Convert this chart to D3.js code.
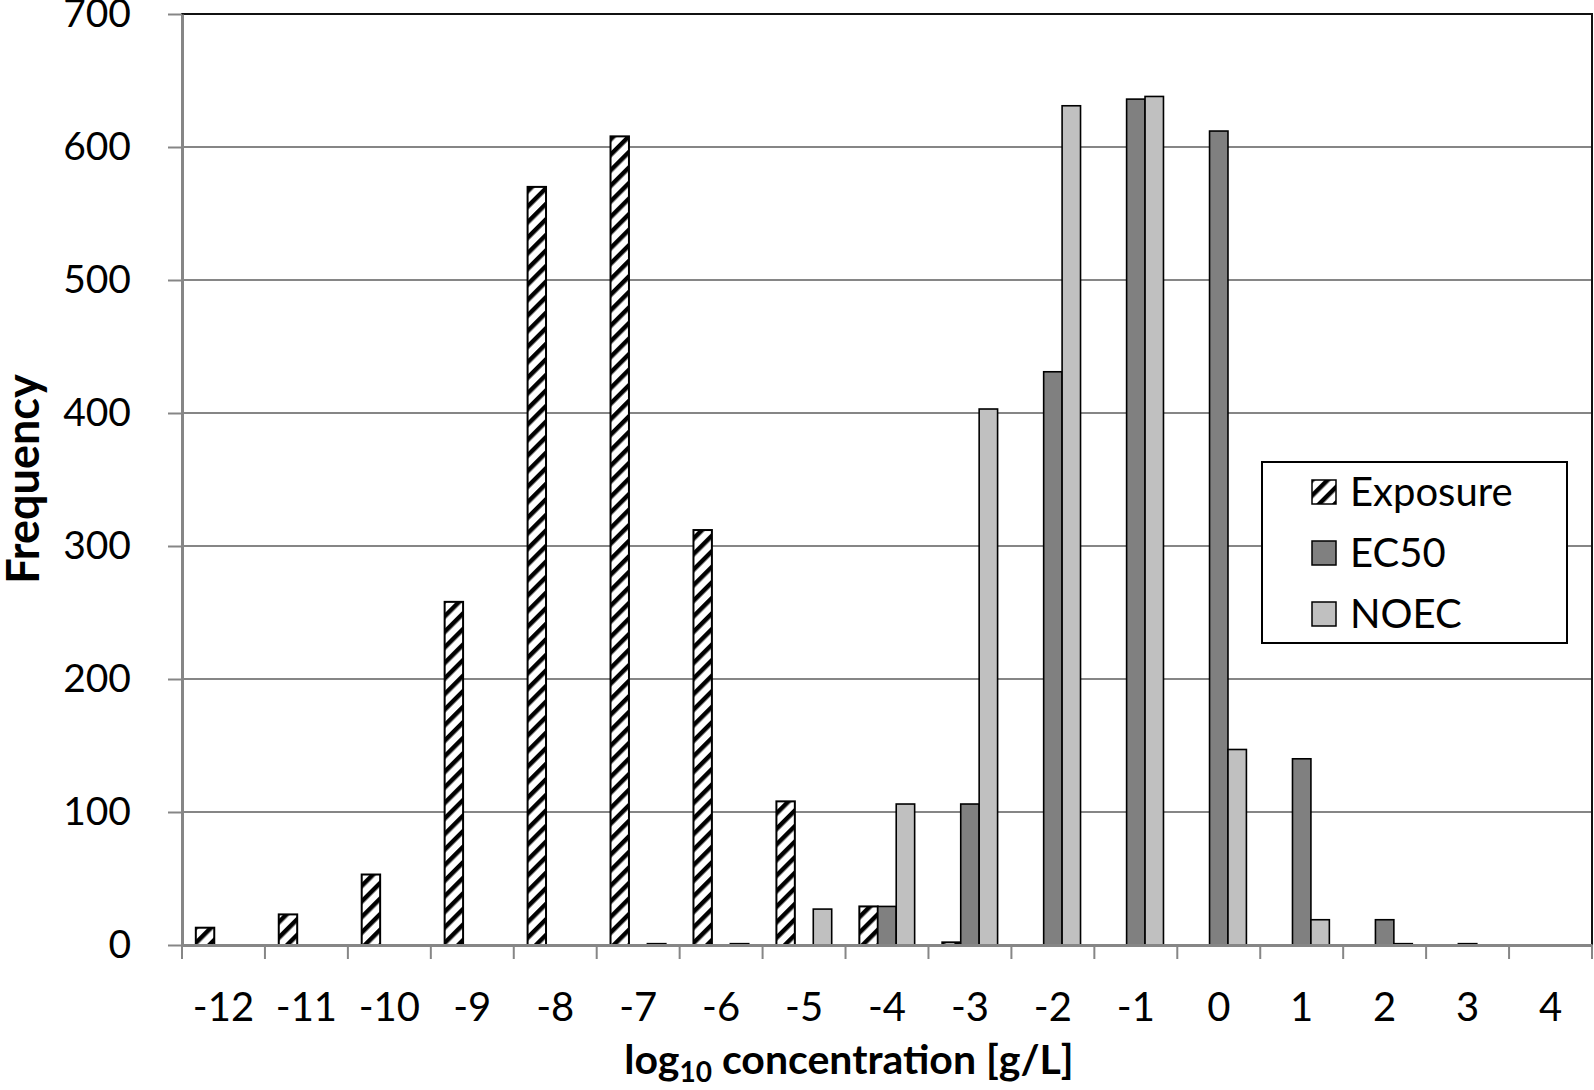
<!DOCTYPE html>
<html><head><meta charset="utf-8">
<script src="https://cdn.jsdelivr.net/npm/d3@7"></script>
<style>body{margin:0;background:#fff}svg{display:block}text{font-family:Lato,"Open Sans",sans-serif;fill:#000}</style>
</head><body><svg id="c" width="1594" height="1090"></svg>
<script>
const categories = ["-12","-11","-10","-9","-8","-7","-6","-5","-4","-3","-2","-1","0","1","2","3","4"];
const seriesNames = ["Exposure","EC50","NOEC"];
const exposure = [13,23,53,258,570,608,312,108,29,2,0,0,0,0,0,0,0];
const ec50     = [0,0,0,0,0,0,0,0,29,106,431,636,612,140,19,1,0];
const noec     = [0,0,0,0,0,1,1,27,106,403,631,638,147,19,1,0,0];
const yTicks = [0,100,200,300,400,500,600,700];

const svg = d3.select("#c");
const L=182, R=1592, T=14, B=945;
const x = d3.scaleBand().domain(categories).range([L,R]).paddingInner(0).paddingOuter(0);
const xi = d3.scaleBand().domain(seriesNames).range([0,x.bandwidth()]).paddingInner(0).paddingOuter(0.75);
const y = d3.scaleLinear().domain([0,700]).range([B,T]);

const defs = svg.append("defs");
const pat = defs.append("pattern").attr("id","hatch").attr("patternUnits","userSpaceOnUse")
  .attr("width",11).attr("height",11).attr("patternTransform","rotate(45)");
pat.append("rect").attr("width",11).attr("height",11).attr("fill","#fff");
pat.append("rect").attr("x",0).attr("y",0).attr("width",4.5).attr("height",11).attr("fill","#000");

// gridlines
svg.append("g").selectAll("line").data(yTicks.filter(d=>d>0&&d<700)).join("line")
  .attr("x1",L).attr("x2",R).attr("y1",d=>y(d)).attr("y2",d=>y(d))
  .attr("stroke","#868686").attr("stroke-width",2);
// plot border
svg.append("rect").attr("x",L).attr("y",T).attr("width",R-L).attr("height",B-T)
  .attr("fill","none").attr("stroke","#111").attr("stroke-width",2);

const fills = {Exposure:"url(#hatch)", EC50:"#808080", NOEC:"#c0c0c0"};
const data = categories.map((c,i)=>({c, v:{Exposure:exposure[i], EC50:ec50[i], NOEC:noec[i]}}));
const gBars = svg.append("g");
data.forEach(d=>{
  seriesNames.forEach(s=>{
    const v=d.v[s];
    if(v<=0) return;
    gBars.append("rect").attr("x",x(d.c)+xi(s)).attr("width",xi.bandwidth())
      .attr("y",y(v)).attr("height",Math.max(0,y(0)-y(v)))
      .attr("fill",fills[s]).attr("stroke","#000").attr("stroke-width",s==="Exposure"?2:1.6);
  });
});

// y axis
const yAxis = svg.append("g").attr("transform",`translate(${L},0)`)
  .call(d3.axisLeft(y).tickValues(yTicks).tickSize(14).tickPadding(37).tickSizeOuter(0));
yAxis.select(".domain").attr("stroke","#868686").attr("stroke-width",3);
yAxis.selectAll(".tick line").attr("stroke","#868686").attr("stroke-width",2);
yAxis.selectAll(".tick text").style("font-size","39px").style("font-family","Lato");

// x axis
const xAxis = svg.append("g").attr("transform",`translate(0,${B})`)
  .call(d3.axisBottom(x).tickSize(0).tickPadding(48).tickSizeOuter(0));
xAxis.select(".domain").attr("stroke","#868686").attr("stroke-width",3);
xAxis.selectAll(".tick text").style("font-size","40px").style("font-family","Lato");
const bounds = categories.map(c=>x(c)).concat([R]);
svg.append("g").selectAll("line").data(bounds).join("line")
  .attr("x1",d=>d).attr("x2",d=>d).attr("y1",B).attr("y2",B+14)
  .attr("stroke","#868686").attr("stroke-width",2);

// axis titles
const xt = svg.append("text").attr("x",849).attr("y",1074).attr("text-anchor","middle")
  .style("font-size","41px").style("font-weight","bold");
xt.append("tspan").text("log");
xt.append("tspan").text("10").attr("dy",8).style("font-size","28px");
xt.append("tspan").text(" concentration [g/L]").attr("dy",-8);
svg.append("text").attr("transform","translate(39,479) rotate(-90)").attr("text-anchor","middle")
  .style("font-size","45px").style("font-weight","bold").text("Frequency");

// legend
const lg = svg.append("g");
lg.append("rect").attr("x",1262).attr("y",462).attr("width",305).attr("height",181)
  .attr("fill","#fff").attr("stroke","#000").attr("stroke-width",2);
seriesNames.forEach((s,i)=>{
  const cy = 492 + i*61;
  lg.append("rect").attr("x",1312).attr("y",cy-12).attr("width",24).attr("height",24)
    .attr("fill",fills[s]).attr("stroke","#000").attr("stroke-width",1.5);
  lg.append("text").attr("x",1350).attr("y",cy).attr("dy","0.36em")
    .style("font-size","40px").text(s);
});
</script></body></html>
